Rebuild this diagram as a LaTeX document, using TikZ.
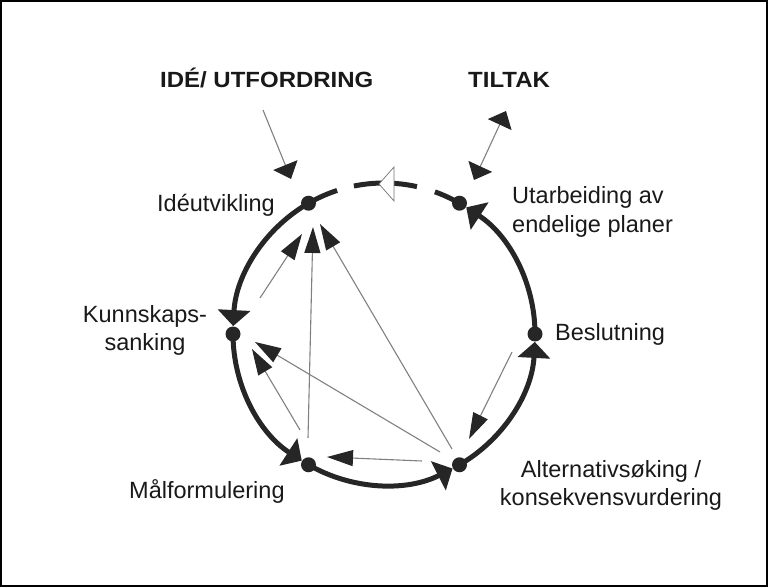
\documentclass[tikz,border=0pt]{standalone}
\usepackage{fontspec}
\setmainfont{Liberation Sans}
\newfontfamily\boldlab{Liberation Sans Bold}[FakeStretch=1.09]
\usetikzlibrary{arrows.meta}
\begin{document}
\begin{tikzpicture}[x=1pt,y=1pt,
  ring/.style={line width=5pt, draw=black!85},
  ringtip/.style={-{Triangle[length=16pt,width=32pt]}},
  dot/.style={circle, fill=black!85, minimum size=15pt, inner sep=0pt},
  link/.style={draw=black!50, line width=1.1pt, -{Triangle[length=26pt,width=16pt,color=black!85]}},
  inlink/.style={draw=black!50, line width=1.1pt, -{Triangle[length=15pt,width=26pt,color=black!85]}},
  bothlink/.style={draw=black!50, line width=1.1pt, {Triangle[length=15pt,width=26pt,color=black!85]}-{Triangle[length=15pt,width=26pt,color=black!85]}},
  lab/.style={font=\fontsize{23.5}{28.5}\selectfont, inner sep=0pt, text=black!90},
  blab/.style={font=\boldlab\fontsize{22}{26}\selectfont, inner sep=0pt, text=black!90}]

\useasboundingbox (0,0) rectangle (768,587);
\draw[line width=2pt] (1,1) rectangle (767,586);

\begin{scope}[shift={(384,253)}]
  % ring arcs with arrowheads
  \draw[ring, ringtip] (120:151) arc[start angle=120, end angle=177, radius=151pt];
  \draw[ring, ringtip] (180:151) arc[start angle=180, end angle=237, radius=151pt];
  \draw[ring, ringtip] (240:151) arc[start angle=240, end angle=297, radius=151pt];
  \draw[ring, ringtip] (300:151) arc[start angle=300, end angle=357, radius=151pt];
  \draw[ring, ringtip] (0:151) arc[start angle=0, end angle=57, radius=151pt];
  % top broken arc
  \draw[ring] (60:151) arc[start angle=60, end angle=70.3, radius=151pt];
  \draw[ring] (77.4:151) arc[start angle=77.4, end angle=101.5, radius=151pt];
  \draw[ring] (108.1:151) arc[start angle=108.1, end angle=120, radius=151pt];
  % dots
  \node[dot] (ide) at (120:151) {};
  \node[dot] (utarb) at (60:151) {};
  \node[dot] (besl) at (0:151) {};
  \node[dot] (alt) at (300:151) {};
  \node[dot] (mal) at (240:151) {};
  \node[dot] (kunn) at (180:151) {};
\end{scope}

% white open arrowhead on top arc
\draw[black!55, line width=0.7pt, fill=white] (379,403) -- (394,420) -- (394,386) -- cycle;

% labels
\node[blab, anchor=base west] (tide) at (160,499) {IDÉ/ UTFORDRING};
\node[blab, anchor=base west] (ttiltak) at (468,499) {TILTAK};
\node[lab, anchor=base west] (lide) at (157,375) {Idéutvikling};
\node[lab, anchor=base west] (lutarb) at (512,383) {\begin{tabular}[t]{@{}l@{}}Utarbeiding av\\endelige planer\end{tabular}};
\node[lab, anchor=base west] (lbesl) at (555,247) {Beslutning};
\node[lab, anchor=base] (lkunn) at (145,265) {\begin{tabular}[t]{@{}c@{}}Kunnskaps-\\sanking\end{tabular}};
\node[lab, anchor=base west] (lmal) at (129,89) {Målformulering};
\node[lab, anchor=base] (lalt) at (611,110) {\begin{tabular}[t]{@{}c@{}}Alternativsøking /\\konsekvensvurdering\end{tabular}};

% connector end points
\coordinate (a1s) at (260,289); \coordinate (a1e) at (302,353);
\coordinate (a2s) at (308,149); \coordinate (a2e) at (313,360);
\coordinate (a3s) at (452,138); \coordinate (a3e) at (320,363);
\coordinate (a4s) at (440,135); \coordinate (a4e) at (255,245);
\coordinate (a5s) at (300,157); \coordinate (a5e) at (252,238);
\coordinate (a6s) at (422,126); \coordinate (a6e) at (327,130);
\coordinate (a7s) at (512,235); \coordinate (a7e) at (469,148);
\coordinate (ins) at (263,477); \coordinate (ine) at (291,408);
\coordinate (tls) at (474,407); \coordinate (tle) at (506,476);

% inner connectors
\draw[link] (a1s) -- (a1e);
\draw[link] (a2s) -- (a2e);
\draw[link] (a3s) -- (a3e);
\draw[link] (a4s) -- (a4e);
\draw[link] (a5s) -- (a5e);
\draw[link] (a6s) -- (a6e);
\draw[link] (a7s) -- (a7e);

% outer connectors
\draw[inlink] (ins) -- (ine);
\draw[bothlink] (tls) -- (tle);
\end{tikzpicture}
\end{document}
